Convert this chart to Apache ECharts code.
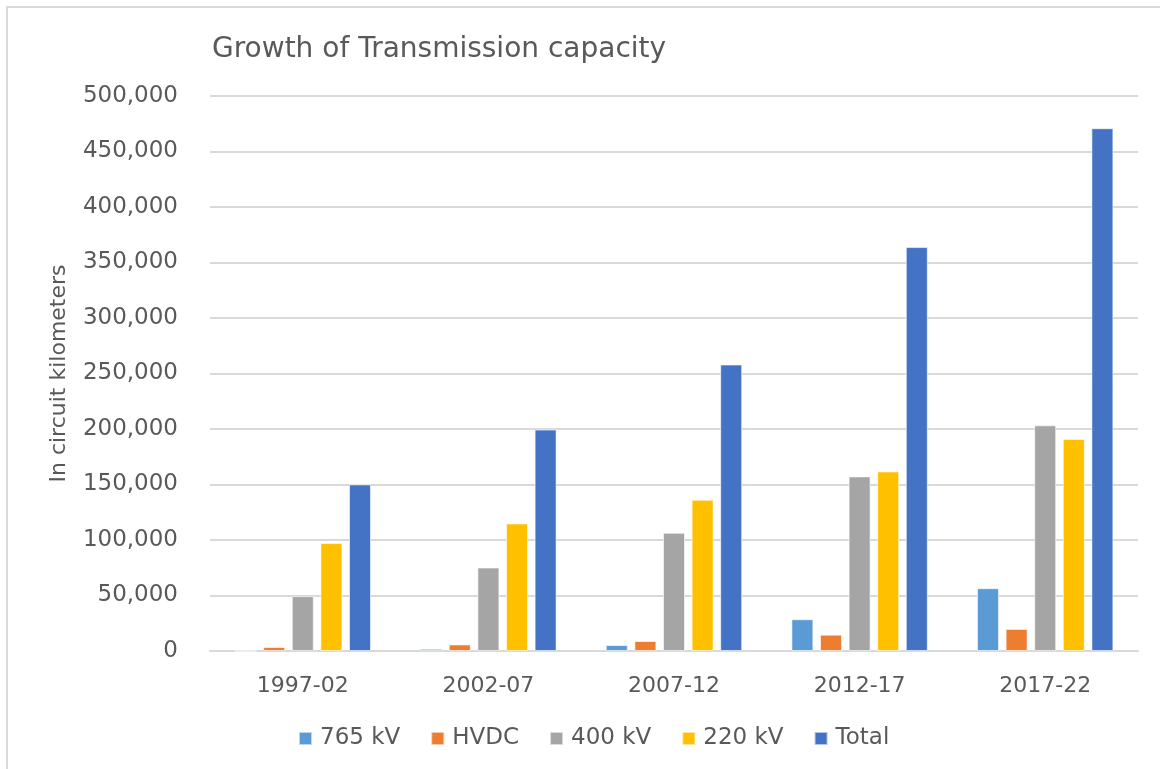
<!DOCTYPE html>
<html>
<head>
<meta charset="utf-8">
<script src="https://cdn.jsdelivr.net/npm/echarts@6/dist/echarts.min.js"></script>
<style>
  html, body { margin: 0; padding: 0; background: #fff; }
  #main { width: 1160px; height: 769px; }
</style>
</head>
<body>
<div id="main"></div>
<script>
// periods on the x axis
var periods = ['1997-02', '2002-07', '2007-12', '2012-17', '2017-22'];

// circuit km per voltage class
var kv765 = [0, 2000, 5400, 28600, 56600];
var hvdc = [3600, 5900, 9000, 14700, 19900];
var kv400 = [49400, 75200, 106500, 157300, 203300];
var kv220 = [97200, 114900, 136300, 161800, 191100];
var total = [150100, 199500, 258100, 363900, 471000];

var seriesNames = ['765 kV', 'HVDC', '400 kV', '220 kV', 'Total'];
var seriesColors = ['#5B9BD5', '#ED7D31', '#A5A5A5', '#FFC000', '#4472C4'];
var seriesData = [kv765, hvdc, kv400, kv220, total];

var textColor = '#595959';
var fontFam = 'DejaVu Sans';

var series = [];
for (var i = 0; i < seriesNames.length; i++) {
    series.push({
        name: seriesNames[i],
        type: 'bar',
        data: seriesData[i],
        barWidth: 22,
        barGap: '30%',
        itemStyle: {
            color: seriesColors[i],
            borderColor: 'rgba(255,255,255,0.6)',
            borderWidth: 1
        }
    });
}

var option = {
    backgroundColor: '#fff',
    animation: false,
    title: {
        text: 'Growth of Transmission capacity',
        left: 207,
        top: 31,
        textStyle: {
            color: textColor,
            fontFamily: fontFam,
            fontWeight: 'normal',
            fontSize: 28
        }
    },
    graphic: [{
        type: 'rect',
        shape: { x: 7, y: 7, width: 1200, height: 800 },
        style: { fill: 'none', stroke: '#D9D9D9', lineWidth: 2 },
        silent: true
    }],
    legend: {
        data: seriesNames,
        left: 293,
        top: 722,
        itemWidth: 13,
        itemHeight: 13,
        itemGap: 30,
        icon: 'rect',
        textStyle: {
            color: textColor,
            fontFamily: fontFam,
            fontSize: 23,
            padding: [0, 0, 0, 3]
        }
    },
    grid: {
        left: 210,
        right: 22,
        top: 96,
        bottom: 118
    },
    xAxis: {
        type: 'category',
        data: periods,
        axisLine: { lineStyle: { color: '#D9D9D9', width: 2 } },
        axisTick: { show: false },
        axisLabel: {
            color: textColor,
            fontFamily: fontFam,
            fontSize: 22,
            margin: 24
        }
    },
    yAxis: {
        type: 'value',
        min: 0,
        max: 500000,
        interval: 50000,
        name: 'In circuit kilometers',
        nameLocation: 'middle',
        nameGap: 140,
        nameTextStyle: {
            color: textColor,
            fontFamily: fontFam,
            fontSize: 22
        },
        axisLine: { show: false },
        axisTick: { show: false },
        splitLine: { lineStyle: { color: '#D9D9D9', width: 2 } },
        axisLabel: {
            color: textColor,
            fontFamily: fontFam,
            fontSize: 23,
            margin: 32,
            formatter: function (v) {
                return v.toLocaleString('en-US');
            }
        }
    },
    series: series
};

var myChart = echarts.init(document.getElementById('main'));
myChart.setOption(option);
</script>
</body>
</html>
